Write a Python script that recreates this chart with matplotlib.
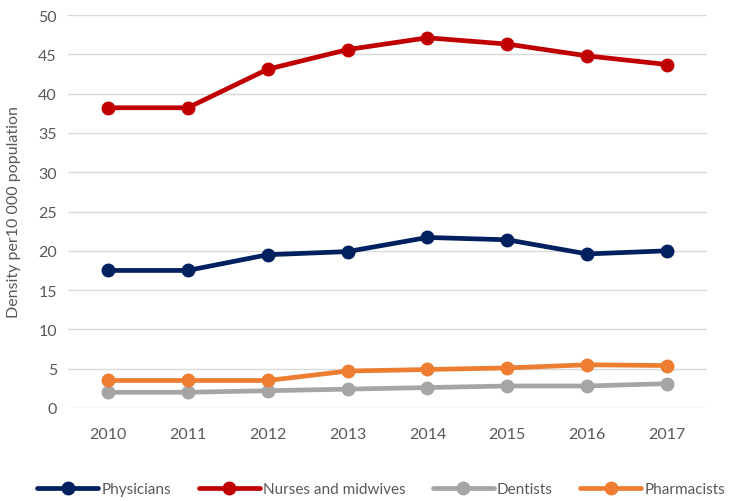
import numpy as np
from matplotlib import pyplot as plt

years = ["2010", "2011", "2012", "2013", "2014", "2015", "2016", "2017"]
physicians = [17.5, 17.5, 19.5, 19.9, 21.7, 21.4, 19.6, 20.0]
nurses = [38.2, 38.2, 43.1, 45.6, 47.1, 46.3, 44.8, 43.7]
dentists = [2.0, 2.0, 2.2, 2.4, 2.6, 2.8, 2.8, 3.1]
pharmacists = [3.5, 3.5, 3.5, 4.7, 4.9, 5.1, 5.5, 5.4]

series = [
    ("Physicians", physicians, "#002060"),
    ("Nurses and midwives", nurses, "#C00000"),
    ("Dentists", dentists, "#A5A5A5"),
    ("Pharmacists", pharmacists, "#ED7D31"),
]

plt.rcParams['font.family'] = ['Lato', 'DejaVu Sans']

fig = plt.figure(figsize=(7.29, 5.02), dpi=100)
ax = fig.add_axes([68/729, 1 - 409/502, (707-68)/729, (409-16)/502])

x = np.arange(len(years))
for name, vals, col in series:
    ax.plot(x, vals, color=col, lw=3.4, marker="o", markersize=9,
            solid_capstyle="round", label=name)

ax.set_xlim(-0.5, len(years) - 0.5)
ax.set_ylim(0, 50)
ax.set_yticks(np.arange(0, 51, 5))
ax.set_xticks(x)
ax.set_xticklabels(years)
ax.grid(axis="y", color="#D9D9D9", lw=1)
ax.set_axisbelow(True)
for s in ax.spines.values():
    s.set_visible(False)
ax.tick_params(length=0, labelsize=11.5, labelcolor="#595959", pad=8)
ax.tick_params(axis="x", pad=14)
ax.set_ylabel("Density per10 000 population", fontsize=11.5, color="#595959", labelpad=12)

leg = fig.legend(loc="center", bbox_to_anchor=(0.523, 12/502), ncol=4,
                 frameon=False, fontsize=11, handlelength=4, columnspacing=1.8,
                 handletextpad=0.2)
for t in leg.get_texts():
    t.set_color("#595959")

fig.savefig("out.png", dpi=100)
